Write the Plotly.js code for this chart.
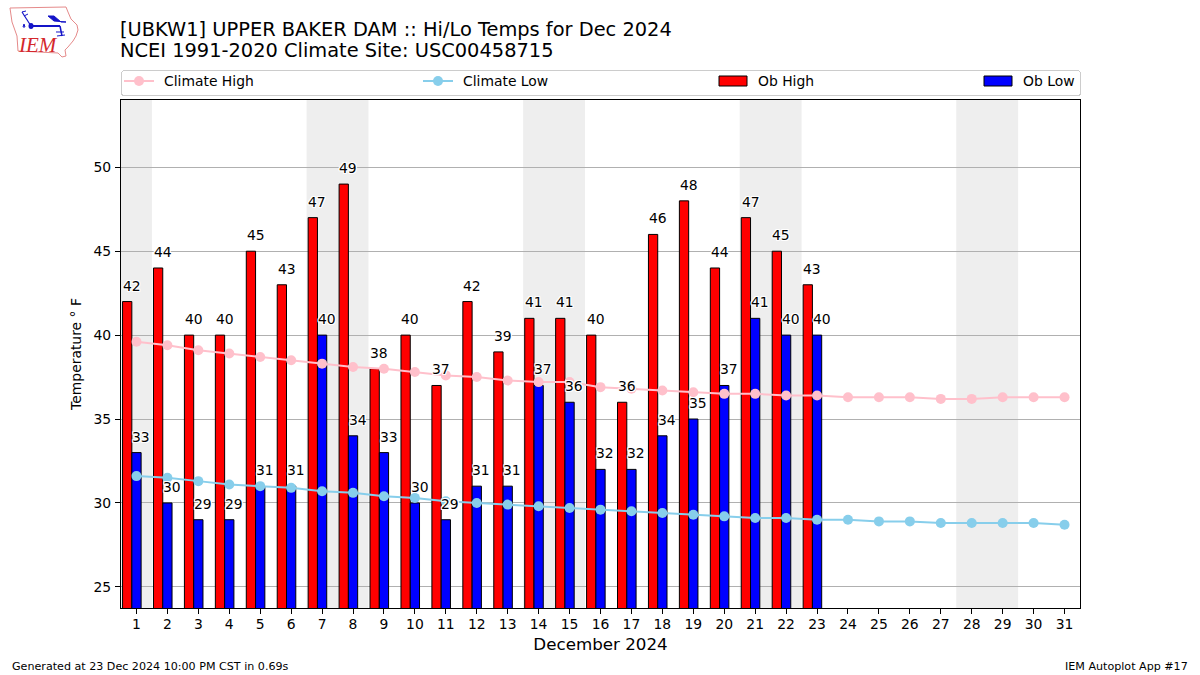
<!DOCTYPE html>
<html>
<head>
<meta charset="utf-8">
<script src="https://cdn.plot.ly/plotly-3.0.1.min.js"></script>
<style>html,body{margin:0;padding:0;background:#fff}#chart{width:1200px;height:675px}</style>
</head>
<body>
<div id="chart"></div>
<script>
var allDays = [1,2,3,4,5,6,7,8,9,10,11,12,13,14,15,16,17,18,19,20,21,22,23,24,25,26,27,28,29,30,31];
var obDays = [1,2,3,4,5,6,7,8,9,10,11,12,13,14,15,16,17,18,19,20,21,22,23];
var obHigh = [42,44,40,40,45,43,47,49,38,40,37,42,39,41,41,40,36,46,48,44,47,45,43];
var obLow = [33,30,29,29,31,31,40,34,33,30,29,31,31,37,36,32,32,34,35,37,41,40,40];
var climateHigh = [39.6,39.4,39.1,38.9,38.7,38.5,38.3,38.1,38.0,37.8,37.6,37.5,37.3,37.2,37.2,36.9,36.8,36.7,36.6,36.5,36.5,36.4,36.4,36.3,36.3,36.3,36.2,36.2,36.3,36.3,36.3];
var climateLow = [31.6,31.5,31.3,31.1,31.0,30.9,30.7,30.6,30.4,30.3,30.1,30.0,29.9,29.8,29.7,29.6,29.5,29.4,29.3,29.2,29.1,29.1,29.0,29.0,28.9,28.9,28.8,28.8,28.8,28.8,28.7];
var weekendStarts = [0.5,6.5,13.5,20.5,27.5];
var weekendEnds = [1.5,8.5,15.5,22.5,29.5];

var FONT = 'DejaVu Sans, sans-serif';
var L=121,R=1080,T=100,B=608;
function P(px,py){ return ((px-L)/(R-L)).toFixed(5)+','+((B-py)/(B-T)).toFixed(5); }
function poly(pts,close){ return 'M'+pts.map(function(p){return P(p[0],p[1]);}).join('L')+(close?'Z':''); }
function logoShape(pts,close,color,width,fill){
  return {type:'path',xref:'paper',yref:'paper',layer:'above',path:poly(pts,close),
    line:{color:color,width:width},fillcolor:fill||'rgba(0,0,0,0)'};
}
var shapes = weekendStarts.map(function(s,i){
  return {type:'rect',xref:'x',yref:'paper',x0:s,x1:weekendEnds[i],y0:0,y1:1,layer:'below',
    fillcolor:'#eeeeee',line:{width:0}};
});
var outline = [[10,8],[66,7],[68,12],[71,19],[77,25],[78,30],[76,36],[73,41],[68,47],[65,50],[66,56],[62,57],[58,53],[18,51],[17,36],[12,22]];
shapes.push(logoShape(outline,true,'#e58a8a',1));
shapes.push(logoShape([[31,26],[60,26]],false,'#1414c8',2));
shapes.push(logoShape([[22,12],[31,26]],false,'#1414c8',1.2));
shapes.push(logoShape([[22,12],[26,11]],false,'#1414c8',1));
shapes.push(logoShape([[24,16],[28,14]],false,'#1414c8',1));
shapes.push(logoShape([[48,16],[54,16],[61,22],[66,22],[54,21]],true,'#1414c8',1,'#1414c8'));
shapes.push(logoShape([[60,26],[62,36]],false,'#1414c8',1.5));
shapes.push(logoShape([[56,32],[64,32]],false,'#1414c8',1));
shapes.push(logoShape([[57,36],[65,35]],false,'#1414c8',1));
shapes.push({type:'circle',xref:'paper',yref:'paper',layer:'above',
  x0:(28.5-L)/(R-L),x1:(33.5-L)/(R-L),y0:(B-29)/(B-T),y1:(B-23)/(B-T),fillcolor:'#1414c8',line:{width:0}});
shapes.push(logoShape([[23,27],[25,27],[24,24]],true,'#1414c8',1));

var haloOffsets = [[1,0],[-1,0],[0,1],[0,-1],[1,1],[-1,-1],[1,-1],[-1,1]];
var halo = haloOffsets.map(function(o){return o[0]+'px '+o[1]+'px 0 #fff';}).join(',');
function valueLabels(days,vals,dx){
  return days.map(function(d,i){
    return {x:d+dx,y:vals[i],xref:'x',yref:'y',text:String(vals[i]),showarrow:false,
      xanchor:'center',yanchor:'bottom',yshift:6,
      font:{family:FONT,size:13.9,color:'#000',shadow:halo}};
  });
}
function pageText(text,px,py,anchor,size,color,family,italic){
  return {xref:'paper',yref:'paper',x:(px-L)/(R-L),y:(B-py)/(B-T),text:text,showarrow:false,
    xanchor:anchor,yanchor:'middle',
    font:{family:family||FONT,size:size,color:color||'#000',style:italic?'italic':'normal'}};
}
var annotations = valueLabels(obDays,obHigh,-0.15).concat(valueLabels(obDays,obLow,0.15));
annotations.push(pageText('Generated at 23 Dec 2024 10:00 PM CST in 0.69s',10,666,'left',11.12));
annotations.push(pageText('IEM Autoplot App #17',1190,666,'right',11.12));
annotations.push(pageText('IEM',37.5,45,'center',21,'#d4282c','Liberation Serif, serif',true));

var traces = [
  {type:'bar',name:'Ob High',x:obDays,y:obHigh,width:0.3,offset:-0.45,marker:{color:'#ff0000',line:{color:'#000',width:1}},hoverinfo:'x+y'},
  {type:'bar',name:'Ob Low',x:obDays,y:obLow,width:0.3,offset:-0.15,marker:{color:'#0000ff',line:{color:'#000',width:1}},hoverinfo:'x+y'},
  {type:'scatter',mode:'lines+markers',name:'Climate High',x:allDays,y:climateHigh,
    line:{color:'#ffc0cb',width:2},marker:{color:'#ffc0cb',size:10}},
  {type:'scatter',mode:'lines+markers',name:'Climate Low',x:allDays,y:climateLow,
    line:{color:'#87ceeb',width:2},marker:{color:'#87ceeb',size:10}}
];
var layout = {
  width:1200,height:675,autosize:false,
  paper_bgcolor:'#fff',plot_bgcolor:'#fff',
  font:{family:FONT,size:13.9,color:'#000'},
  margin:{l:L,r:1200-R,t:T,b:675-B,pad:0},
  title:{text:'[UBKW1] UPPER BAKER DAM :: Hi/Lo Temps for Dec 2024<br>NCEI 1991-2020 Climate Site: USC00458715',
    xref:'container',yref:'container',x:120/1200,xanchor:'left',y:1-19/675,yanchor:'top',
    font:{family:FONT,size:19.4,color:'#000'}},
  barmode:'overlay',
  xaxis:{range:[0.5,31.5],tickmode:'array',tickvals:allDays,ticktext:allDays.map(String),
    ticks:'outside',ticklen:5,tickwidth:1,tickcolor:'#000',showgrid:false,zeroline:false,
    showline:true,linecolor:'#000',linewidth:1,mirror:true,tickangle:0,ticklabelstandoff:-2,
    tickfont:{family:FONT,size:13.9},
    title:{text:'December 2024',font:{family:FONT,size:16.7},standoff:7}},
  yaxis:{range:[23.74,54.01],tickmode:'array',tickvals:[25,30,35,40,45,50],
    ticks:'outside',ticklen:5,tickwidth:1,tickcolor:'#000',showgrid:true,gridcolor:'#b0b0b0',gridwidth:1,
    zeroline:false,showline:true,linecolor:'#000',linewidth:1,mirror:true,ticklabelstandoff:1,
    tickfont:{family:FONT,size:13.9},
    title:{text:'Temperature \u00b0 F',font:{family:FONT,size:13.9},standoff:8}},
  showlegend:true,
  legend:{orientation:'h',x:0,xanchor:'left',y:(B-70)/(B-T),yanchor:'top',
    bgcolor:'#fff',bordercolor:'#cccccc',borderwidth:1,traceorder:'reversed',
    entrywidth:200,entrywidthmode:'pixels',font:{family:FONT,size:13.9}},
  shapes:shapes,annotations:annotations
};
Plotly.newPlot('chart',traces,layout,{displayModeBar:false}).then(function(gd){
  var markerX = {'Climate High':139,'Climate Low':438,'Ob High':733,'Ob Low':998};
  var legend = gd.querySelector('g.legend');
  legend.querySelectorAll('g.traces').forEach(function(tr){
    var t = tr.querySelector('text.legendtext');
    var name = t.textContent;
    tr.setAttribute('transform','translate('+(markerX[name]-L-20)+',11)');
    t.setAttribute('x',parseFloat(t.getAttribute('x'))+5);
    if(name.indexOf('Ob')===0){
      tr.querySelectorAll('g.legendpoints path').forEach(function(p){ p.setAttribute('d','M14,5H-14V-5H14Z'); });
    }
  });
  var bg = legend.querySelector('rect.bg');
  bg.setAttribute('width',R-L); bg.setAttribute('height',25);
  bg.setAttribute('rx',3); bg.setAttribute('ry',3);
  var sb = legend.querySelector('g.scrollbox');
  if(sb){ sb.removeAttribute('clip-path'); }
  legend.setAttribute('transform','translate('+L+',70)');
  var title = gd.querySelector('.gtitle');
  if(title){
    var lines = title.querySelectorAll('tspan.line');
    title.setAttribute('y',22);
    if(lines[0]){ lines[0].setAttribute('y',22); lines[0].removeAttribute('dy'); }
    if(lines[1]){ lines[1].setAttribute('y',57); lines[1].removeAttribute('dy'); }
  }
});
</script>
</body>
</html>
